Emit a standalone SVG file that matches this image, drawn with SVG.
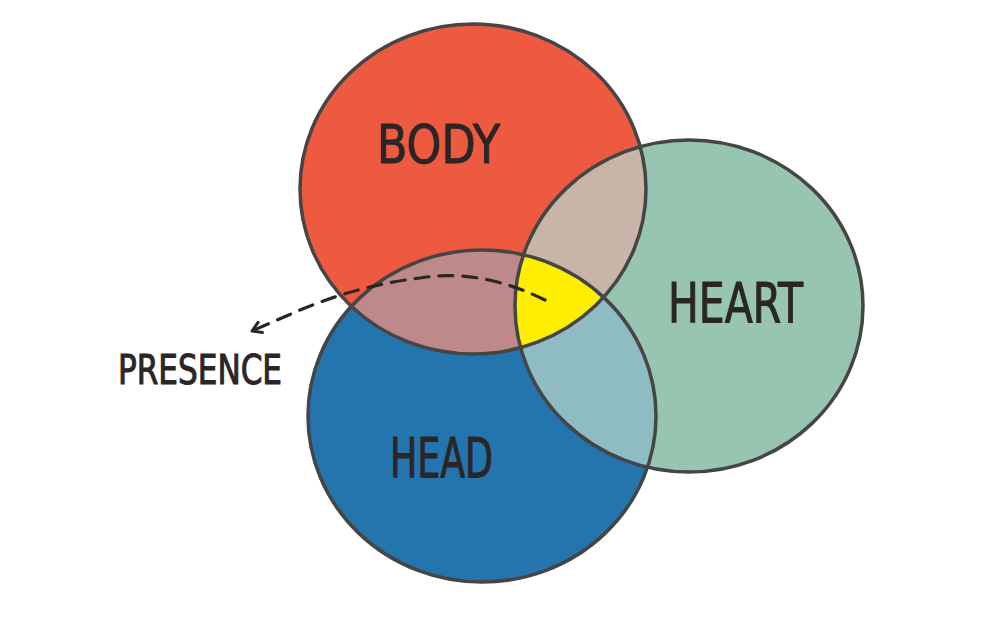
<svg xmlns="http://www.w3.org/2000/svg" width="1000" height="630" viewBox="0 0 1000 630">
  <style>
    .lbl { font-family: "DejaVu Sans Condensed", "DejaVu Sans", "Liberation Sans", sans-serif; font-weight: normal; fill: #2b2626; stroke: #2b2626; stroke-width: 1; }
    .ring { fill: none; stroke: #454545; stroke-width: 3.5; }
  </style>
  <defs>
    <ellipse id="eBody" cx="473" cy="189" rx="173" ry="165"/>
    <ellipse id="eHeart" cx="689" cy="306" rx="174" ry="166"/>
    <ellipse id="eHead" cx="482" cy="416" rx="174" ry="166"/>
    <clipPath id="cHead"><use href="#eHead"/></clipPath>
    <clipPath id="cHeart"><use href="#eHeart"/></clipPath>
    <clipPath id="cBodyHead"><use href="#eBody" clip-path="url(#cHead)"/></clipPath>
    <marker id="arr" viewBox="0 0 14 14" refX="12" refY="7" markerWidth="14" markerHeight="14" markerUnits="userSpaceOnUse" orient="auto">
      <path d="M3 1.5 L12 7 L3 12.5" fill="none" stroke="#2b2626" stroke-width="3" stroke-linecap="round" stroke-linejoin="round"/>
    </marker>
  </defs>
  <rect width="1000" height="630" fill="#ffffff"/>

  <g id="body">
    <use href="#eBody" fill="#EE5A40"/>
  </g>
  <g id="heart">
    <use href="#eHeart" fill="#98C4B2"/>
  </g>
  <g id="head">
    <use href="#eHead" fill="#2474AE"/>
  </g>
  <g id="overlaps">
    <use href="#eBody" fill="#BE898A" clip-path="url(#cHead)"/>
    <use href="#eBody" fill="#C8B5A7" clip-path="url(#cHeart)"/>
    <use href="#eHead" fill="#8FBBC3" clip-path="url(#cHeart)"/>
    <g clip-path="url(#cBodyHead)">
      <use href="#eHeart" fill="#FFEE00"/>
    </g>
  </g>
  <g id="outlines">
    <use href="#eBody" class="ring"/>
    <use href="#eHeart" class="ring"/>
    <use href="#eHead" class="ring"/>
  </g>

  <g id="labels">
    <text class="lbl" x="377" y="163" font-size="54" textLength="123" lengthAdjust="spacingAndGlyphs">BODY</text>
    <text class="lbl" x="668" y="322" font-size="56" textLength="135" lengthAdjust="spacingAndGlyphs">HEART</text>
    <text class="lbl" x="390" y="477" font-size="56" textLength="103" lengthAdjust="spacingAndGlyphs">HEAD</text>
    <text class="lbl" x="118" y="384" font-size="40" textLength="164" lengthAdjust="spacingAndGlyphs">PRESENCE</text>
  </g>

  <g id="connectors">
    <path d="M545 300 Q480 268 420 278 Q360 285 300 310 L252 331" fill="none" stroke="#2b2626" stroke-width="3.2" stroke-dasharray="14 10" stroke-linecap="round" marker-end="url(#arr)"/>
  </g>
</svg>
